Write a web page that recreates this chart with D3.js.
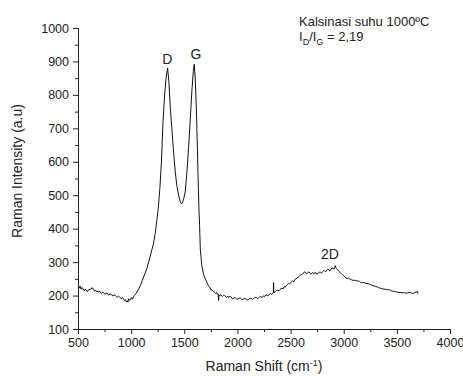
<!DOCTYPE html>
<html>
<head>
<meta charset="utf-8">
<script src="https://cdn.jsdelivr.net/npm/d3@7"></script>
<style>
  body { margin: 0; background: #fff; }
  text { font-family: "Liberation Sans", Arial, sans-serif; fill: #222; }
</style>
</head>
<body>
<div id="chart"></div>
<script>
// Raman spectrum values
var shift = [500, 505, 510, 515, 520, 525, 530, 538, 545, 552, 560, 567, 575, 582, 590, 597, 605, 612, 620, 630,
  640, 647, 655, 662, 670, 680, 690, 697, 705, 712, 720, 730, 740, 750, 760, 767, 775, 782, 790, 800,
  810, 820, 830, 840, 850, 860, 870, 880, 890, 900, 910, 917, 925, 932, 940, 947, 955, 960, 965, 970,
  975, 982, 990, 997, 1005, 1010, 1015, 1022, 1030, 1045, 1060, 1075, 1090, 1105, 1120, 1135, 1150, 1165, 1180, 1195,
  1210, 1225, 1240, 1255, 1270, 1285, 1300, 1315, 1330, 1343, 1355, 1368, 1385, 1400, 1415, 1431, 1450, 1465, 1475, 1485,
  1495, 1509, 1525, 1541, 1557, 1572, 1585, 1594, 1603, 1613, 1621, 1629, 1637, 1644, 1651, 1665, 1682, 1698, 1715, 1729,
  1740, 1750, 1762, 1776, 1785, 1795, 1803, 1810, 1816, 1820, 1823, 1826, 1833, 1840, 1850, 1860, 1870, 1880, 1890, 1900,
  1910, 1917, 1928, 1940, 1950, 1960, 1970, 1980, 1995, 2011, 2020, 2030, 2040, 2050, 2065, 2080, 2092, 2105, 2118, 2130,
  2140, 2150, 2162, 2175, 2187, 2199, 2210, 2220, 2232, 2245, 2257, 2270, 2282, 2293, 2302, 2310, 2320, 2330, 2338, 2340,
  2342, 2350, 2360, 2370, 2380, 2390, 2400, 2410, 2420, 2430, 2440, 2450, 2460, 2470, 2480, 2490, 2500, 2510, 2520, 2530,
  2540, 2550, 2560, 2570, 2580, 2590, 2600, 2610, 2620, 2630, 2638, 2648, 2660, 2670, 2680, 2690, 2700, 2708, 2717, 2728,
  2740, 2750, 2760, 2770, 2780, 2790, 2800, 2810, 2820, 2830, 2840, 2850, 2860, 2870, 2880, 2890, 2900, 2908, 2915, 2920,
  2925, 2930, 2940, 2950, 2960, 2968, 2980, 2990, 3000, 3010, 3020, 3031, 3045, 3060, 3075, 3090, 3105, 3125, 3137, 3150,
  3165, 3180, 3200, 3219, 3235, 3250, 3265, 3280, 3297, 3313, 3330, 3350, 3365, 3380, 3395, 3410, 3425, 3438, 3455, 3470,
  3485, 3500, 3515, 3530, 3547, 3563, 3580, 3600, 3615, 3630, 3645, 3660, 3672, 3685, 3692, 3700];
var intensity = [226, 223, 222, 227, 228, 221, 219, 224, 221, 216, 214, 219, 218, 213, 212, 217, 216, 220, 218, 223,
  222, 217, 214, 216, 212, 214, 210, 213, 213, 208, 206, 210, 209, 205, 204, 208, 207, 203, 201, 205,
  204, 200, 199, 202, 201, 197, 195, 198, 196, 193, 190, 194, 192, 188, 185, 187, 181, 184, 184, 180,
  190, 187, 186, 191, 194, 189, 190, 196, 200, 206, 214, 222, 232, 245, 258, 270, 283, 300, 318, 337,
  355, 382, 420, 460, 520, 600, 720, 800, 855, 880, 840, 765, 690, 626, 570, 526, 495, 478, 474, 480,
  490, 510, 570, 646, 730, 815, 870, 892, 850, 765, 670, 566, 470, 410, 337, 290, 262, 250, 238, 228,
  225, 218, 216, 212, 210, 207, 209, 204, 206, 200, 185, 202, 199, 203, 199, 198, 201, 200, 196, 195,
  198, 194, 197, 196, 192, 191, 194, 193, 189, 190, 193, 192, 188, 188, 191, 190, 187, 188, 192, 191,
  188, 190, 194, 195, 191, 193, 196, 197, 194, 199, 197, 203, 199, 200, 204, 207, 203, 206, 209, 239,
  208, 210, 212, 215, 216, 214, 218, 221, 222, 220, 227, 225, 230, 233, 236, 234, 238, 242, 244, 241,
  248, 250, 252, 255, 257, 261, 262, 264, 266, 271, 270, 266, 267, 271, 268, 264, 266, 269, 265, 268,
  268, 264, 266, 270, 270, 267, 271, 274, 274, 271, 276, 279, 277, 274, 279, 282, 282, 279, 283, 290,
  284, 281, 278, 275, 271, 268, 265, 262, 259, 256, 253, 251, 252, 249, 247, 245, 246, 243, 244, 242,
  238, 240, 237, 236, 235, 233, 231, 229, 228, 226, 223, 222, 220, 219, 219, 217, 218, 216, 213, 213,
  211, 211, 209, 210, 208, 209, 207, 208, 209, 209, 206, 207, 210, 210, 213, 206];

var xMajor = [500, 1000, 1500, 2000, 2500, 3000, 3500, 4000];
var xMinor = [750, 1250, 1750, 2250, 2750, 3250, 3750];
var yMajor = [100, 200, 300, 400, 500, 600, 700, 800, 900, 1000];
var yMinor = [150, 250, 350, 450, 550, 650, 750, 850, 950];

var peakNames = ["D", "G", "2D"];
var peakShift = [1340, 1610, 2870];
var peakLabelY = [893, 908, 310];

var svgWidth = 463;
var svgHeight = 376;
var margin = { top: 28, right: 13, bottom: 47, left: 78 };
var width = svgWidth - margin.left - margin.right;
var height = svgHeight - margin.top - margin.bottom;

var svg = d3.select("#chart")
  .append("svg")
  .attr("width", svgWidth)
  .attr("height", svgHeight);

var chartGroup = svg.append("g")
  .attr("transform", `translate(${margin.left}, ${margin.top})`);

var x = d3.scaleLinear().domain([500, 4000]).range([0, width]);
var y = d3.scaleLinear().domain([100, 1000]).range([height, 0]);

// minor ticks first, then the labelled axes
chartGroup.append("g")
  .attr("transform", `translate(0, ${height})`)
  .call(d3.axisBottom(x).tickValues(xMinor).tickSize(3).tickFormat(""));
chartGroup.append("g")
  .call(d3.axisLeft(y).tickValues(yMinor).tickSize(3).tickFormat(""));

var xAxis = chartGroup.append("g")
  .attr("transform", `translate(0, ${height})`)
  .call(d3.axisBottom(x).tickValues(xMajor).tickSize(5).tickSizeOuter(0).tickPadding(4).tickFormat(d3.format("d")));
var yAxis = chartGroup.append("g")
  .call(d3.axisLeft(y).tickValues(yMajor).tickSize(5).tickSizeOuter(0).tickPadding(4).tickFormat(d3.format("d")));

svg.selectAll(".tick text").style("font-size", "12.5px").attr("fill", "#222");
svg.selectAll(".domain, .tick line").attr("stroke", "#222");

// the spectrum
var line = d3.line()
  .x((d, i) => x(shift[i]))
  .y(d => y(d));

chartGroup.append("path")
  .datum(intensity)
  .attr("fill", "none")
  .attr("stroke", "#111")
  .attr("stroke-width", 1)
  .attr("stroke-linejoin", "round")
  .attr("d", line);

// peak labels
chartGroup.selectAll(".peak")
  .data(peakNames)
  .enter()
  .append("text")
  .attr("class", "peak")
  .attr("x", (d, i) => x(peakShift[i]))
  .attr("y", (d, i) => y(peakLabelY[i]))
  .attr("text-anchor", "middle")
  .style("font-size", "14px")
  .text(d => d);

// axis titles
var xTitle = svg.append("text")
  .attr("x", margin.left + width / 2)
  .attr("y", 371)
  .attr("text-anchor", "middle")
  .style("font-size", "14px");
xTitle.append("tspan").text("Raman Shift (cm");
xTitle.append("tspan").attr("dy", -5).style("font-size", "9px").text("-1");
xTitle.append("tspan").attr("dy", 5).text(")");

svg.append("text")
  .attr("transform", "translate(22, 171) rotate(-90)")
  .attr("text-anchor", "middle")
  .style("font-size", "14px")
  .text("Raman Intensity (a.u)");

// annotation
svg.append("text")
  .attr("x", 299)
  .attr("y", 26)
  .style("font-size", "13px")
  .text("Kalsinasi suhu 1000ºC");

var ratio = svg.append("text")
  .attr("x", 299)
  .attr("y", 41)
  .style("font-size", "13px");
ratio.append("tspan").text("I");
ratio.append("tspan").attr("dy", 4).style("font-size", "9px").text("D");
ratio.append("tspan").attr("dy", -4).text("/I");
ratio.append("tspan").attr("dy", 4).style("font-size", "9px").text("G");
ratio.append("tspan").attr("dy", -4).text(" = 2,19");
</script>
</body>
</html>
